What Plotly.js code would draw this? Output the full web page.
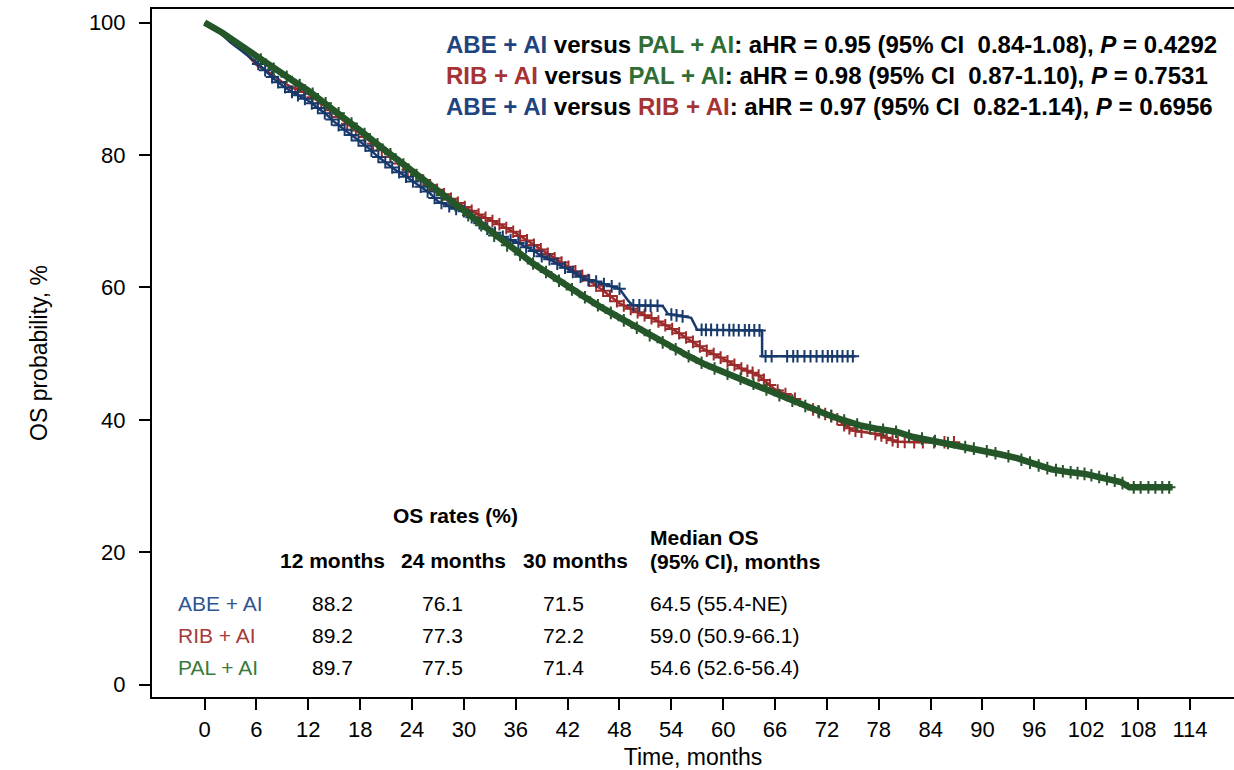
<!DOCTYPE html>
<html>
<head>
<meta charset="utf-8">
<script src="https://cdn.plot.ly/plotly-3.0.1.min.js"></script>
<style>html,body{margin:0;padding:0;background:#fff;}#chart{width:1234px;height:770px;}</style>
</head>
<body>
<div id="chart"></div>
<script>
// ---------- DATA ----------
const abeTime = [0, 1, 2, 3, 4, 5, 6, 7, 8, 9, 10, 11, 12, 13, 14, 15, 16, 17, 18, 19, 20, 21, 22, 23, 24, 25, 26, 27, 28, 29, 30, 31, 32, 33, 34, 35, 36, 37, 38, 39, 40, 41, 42, 43, 44, 45, 46, 47, 48, 49, 49.5, 53, 53.6, 56.3, 57, 64.5, 64.5, 75.3];
const abeSurv = [100, 99.2, 98.2, 97, 96, 95, 94, 92.8, 91.5, 90.5, 89.6, 88.9, 88.2, 87.2, 86.2, 85, 84, 83, 82, 81, 79.8, 78.8, 77.8, 77, 76.1, 75.2, 74.3, 73, 72.4, 71.9, 71.5, 70.5, 69.5, 68.6, 68, 67.3, 66.9, 66.2, 65.6, 64.7, 64.2, 63.4, 62.8, 62, 61.2, 61, 60.6, 60.2, 59.8, 58, 57.3, 57.2, 56, 55.4, 53.6, 53.5, 49.6, 49.6];
const abeCensor = [6.2, 7.0, 7.8, 8.5, 9.3, 10.1, 10.8, 11.6, 12.4, 13.1, 13.9, 14.7, 15.5, 16.2, 17.0, 17.8, 18.6, 19.3, 20.1, 20.9, 21.7, 22.5, 23.3, 24.1, 25.0, 25.8, 26.6, 27.4, 28.3, 29.1, 30.0, 30.9, 31.8, 32.7, 33.6, 34.5, 35.4, 36.3, 37.2, 38.1, 39.0, 39.9, 40.8, 41.7, 42.6, 43.5, 44.4, 45.3, 46.2, 47.1, 48.0, 49.6, 50.3, 51.0, 51.6, 52.4, 54.0, 54.6, 55.3, 57.5, 58.0, 58.6, 59.3, 60.0, 60.7, 61.2, 61.8, 62.5, 63.0, 63.6, 64.2, 64.9, 65.6, 67.4, 68.1, 68.6, 69.4, 70.1, 70.8, 71.5, 72.1, 72.6, 73.2, 73.8, 74.4, 75.0];

const ribTime = [0, 1, 2, 3, 4, 5, 6, 7, 8, 9, 10, 11, 12, 14, 16, 18, 20, 22, 24, 26, 28, 30, 32, 34, 36, 38, 40, 42, 44, 46, 48, 50, 52, 54, 56, 58, 60, 62, 64, 65, 66, 67, 68, 69, 70, 71, 72, 73, 74, 75, 76, 78, 80, 82, 84, 86.7];
const ribSurv = [100, 99, 98.2, 97.2, 96.2, 95, 93.6, 92.8, 92, 91, 90.3, 89.8, 89.2, 87.3, 85.2, 83.2, 81.2, 79.2, 77.3, 75.5, 73.8, 72.2, 70.8, 69.6, 68.2, 66.5, 64.8, 63.2, 61.5, 59.6, 57.6, 56.3, 55.2, 53.8, 52.2, 50.5, 49.2, 47.8, 46.8, 45.7, 44.6, 44, 43.4, 42.6, 41.8, 41.2, 40.8, 40.3, 39.2, 38.4, 38.2, 37.8, 36.7, 36.6, 36.6, 36.6];
const ribCensor = [10.5, 11.5, 12.5, 13.5, 14.5, 15.5, 16.5, 17.5, 18.5, 19.5, 20.5, 21.5, 22.5, 23.5, 24.5, 25.3, 26.1, 26.9, 27.7, 28.5, 29.3, 30.1, 30.9, 31.7, 32.5, 33.3, 34.1, 34.9, 35.7, 36.5, 37.3, 38.1, 38.9, 39.7, 40.5, 41.3, 42.1, 42.9, 43.7, 44.5, 45.3, 46.1, 46.9, 47.7, 48.5, 49.3, 50.1, 50.9, 51.7, 52.5, 53.3, 54.1, 54.9, 55.7, 56.5, 57.3, 58.1, 58.9, 59.7, 60.5, 61.3, 62.1, 62.8, 63.4, 64.1, 64.7, 65.4, 66.3, 67.2, 68.3, 70.4, 71.1, 71.8, 72.5, 73.2, 74.0, 74.6, 75.3, 76.0, 77.6, 78.3, 78.9, 79.6, 80.2, 81.0, 82.1, 83.1, 84.4, 85.6, 86.7];

const palTime = [0, 1, 2, 3, 4, 5, 6, 8, 10, 12, 14, 16, 18, 20, 22, 24, 26, 28, 30, 32, 34, 36, 38, 40, 42, 44, 46, 48, 50, 52, 54, 56, 58, 60, 62, 64, 66, 68, 70, 72, 74, 76, 78, 80, 82, 84, 86, 88, 90, 92, 94, 96, 98, 100, 102, 104, 106, 107, 112];
const palSurv = [100, 99.3, 98.5, 97.6, 96.7, 95.8, 94.9, 93, 91.4, 89.7, 87.8, 85.8, 83.7, 81.6, 79.6, 77.5, 75.4, 73.4, 71.4, 69.4, 67.3, 65.4, 63.6, 61.9, 60.1, 58.5, 56.9, 55.4, 53.9, 52.4, 51.0, 49.6, 48.3, 47.2, 46.2, 45.2, 44.0, 42.9, 41.8, 40.8, 39.9, 39.1, 38.6, 38.2, 37.4, 36.9, 36.5, 35.9, 35.4, 34.8, 34.2, 33.3, 32.5, 32.1, 31.8, 31.2, 30.6, 29.8, 29.8];
const palCensor = [6.5, 8.0, 9.5, 11.0, 12.5, 14.0, 15.5, 17.0, 18.5, 20.0, 21.5, 23.0, 24.5, 26.0, 27.5, 29.0, 30.5, 32.0, 33.5, 35.0, 36.5, 38.0, 39.5, 41.0, 42.5, 44.0, 45.5, 47.0, 48.5, 50.0, 51.5, 53.0, 54.5, 56.0, 57.5, 59.0, 60.5, 62.0, 63.5, 65.0, 66.5, 68.0, 69.5, 71.0, 72.5, 74.0, 75.5, 77.0, 78.5, 80.0, 81.5, 83.0, 84.5, 86.0, 88.0, 89.0, 90.5, 91.5, 93.0, 94.5, 95.5, 96.5, 97.5, 98.5, 99.3, 100.2, 101.0, 101.8, 102.6, 103.5, 104.4, 105.3, 106.2, 107.5, 108.3, 109.2, 110.0, 110.8, 111.6];

const armLabels = ['ABE + AI', 'RIB + AI', 'PAL + AI'];
const rate12 = ['88.2', '89.2', '89.7'];
const rate24 = ['76.1', '77.3', '77.5'];
const rate30 = ['71.5', '72.2', '71.4'];
const medianOS = ['64.5 (55.4-NE)', '59.0 (50.9-66.1)', '54.6 (52.6-56.4)'];
const rateHeaders = ['12 months', '24 months', '30 months'];
const medianHeader = ['Median OS', '(95% CI), months'];

const hrArm1 = ['ABE + AI', 'RIB + AI', 'ABE + AI'];
const hrArm2 = ['PAL + AI', 'PAL + AI', 'RIB + AI'];
const hrValue = ['0.95', '0.98', '0.97'];
const hrCI = ['0.84-1.08', '0.87-1.10', '0.82-1.14'];
const hrP = ['0.4292', '0.7531', '0.6956'];

const xTicks = [0, 6, 12, 18, 24, 30, 36, 42, 48, 54, 60, 66, 72, 78, 84, 90, 96, 102, 108, 114];
const yTicks = [0, 20, 40, 60, 80, 100];

// ---------- STYLE ----------
const lineCol = {'ABE + AI': '#17396b', 'RIB + AI': '#9c2b2b', 'PAL + AI': '#25562a'};
const textCol = {'ABE + AI': '#1f4580', 'RIB + AI': '#a63334', 'PAL + AI': '#2f6d34'};
const labelCol = {'ABE + AI': '#2f5590', 'RIB + AI': '#a83a3a', 'PAL + AI': '#3a7a3e'};
const FONT = 'Liberation Sans, Arial, Helvetica, sans-serif';

function valueAt(ts, ss, t) {
  // value of the drawn curve at time t (linear between read points)
  for (let i = 1; i < ts.length; i++) {
    if (t <= ts[i]) {
      const dt = ts[i] - ts[i - 1];
      if (dt === 0) return ss[i - 1];
      return ss[i - 1] + (ss[i] - ss[i - 1]) * (t - ts[i - 1]) / dt;
    }
  }
  return ss[ss.length - 1];
}

function curve(name, ts, ss, cens, width, msize) {
  const col = lineCol[name];
  return [
    {x: ts, y: ss, type: 'scatter', mode: 'lines', line: {shape: 'linear', color: col, width: width}, name: name, showlegend: false, hoverinfo: 'skip'},
    {x: cens, y: cens.map(t => valueAt(ts, ss, t)), type: 'scatter', mode: 'markers', name: name + ' censored', showlegend: false,
     marker: {symbol: 'cross-thin', size: msize, color: col, line: {color: col, width: 2}}, hoverinfo: 'skip'}
  ];
}

const traces = [].concat(
  curve('RIB + AI', ribTime, ribSurv, ribCensor, 2.5, 9),
  curve('ABE + AI', abeTime, abeSurv, abeCensor, 2.5, 9),
  curve('PAL + AI', palTime, palSurv, palCensor, 6.5, 9)
);

// pixel -> paper helpers (plot area: x 152..1234, y 9..697)
const L = 152, R = 1234, T = 9, B = 697;
const px = v => (v - L) / (R - L);
const py = v => (B - v) / (B - T);

const ann = [];
function addText(x, y, text, anchor, size, color) {
  ann.push({xref: 'paper', yref: 'paper', x: px(x), y: py(y), xanchor: anchor, yanchor: 'middle', showarrow: false,
    text: text, font: {family: FONT, size: size, color: color || '#000'}});
}
// HR statements
const hrY = [45, 76, 106];
for (let i = 0; i < 3; i++) {
  const txt = '<b><span style="color:' + textCol[hrArm1[i]] + '">' + hrArm1[i] + '</span> versus ' +
    '<span style="color:' + textCol[hrArm2[i]] + '">' + hrArm2[i] + '</span>: aHR = ' + hrValue[i] +
    ' (95% CI&nbsp; ' + hrCI[i] + '), <i>P</i> = ' + hrP[i] + '</b>';
  addText(444, hrY[i], txt, 'left', 24);
}
// table
addText(455, 515, '<b>OS rates (%)</b>', 'center', 21);
const colX = [332, 453, 575];
const valX = [332, 442, 563];
for (let j = 0; j < 3; j++) addText(colX[j], 560, '<b>' + rateHeaders[j] + '</b>', 'center', 21);
addText(648, 537, '<b>' + medianHeader[0] + '</b>', 'left', 21);
addText(648, 561, '<b>' + medianHeader[1] + '</b>', 'left', 21);
const rowY = [603, 635, 667];
for (let i = 0; i < 3; i++) {
  addText(176, rowY[i], armLabels[i], 'left', 21, labelCol[armLabels[i]]);
  const vals = [rate12[i], rate24[i], rate30[i]];
  for (let j = 0; j < 3; j++) addText(valX[j], rowY[i], vals[j], 'center', 21);
  addText(648, rowY[i], medianOS[i], 'left', 21);
}

const layout = {
  width: 1234, height: 770,
  margin: {l: L, r: 0, t: T, b: 770 - B, pad: 0},
  paper_bgcolor: '#fff', plot_bgcolor: '#fff',
  showlegend: false,
  font: {family: FONT, size: 22, color: '#000'},
  xaxis: {
    range: [-6.09, 119.1], tickvals: xTicks, ticktext: xTicks.map(String),
    showline: true, linecolor: '#000', linewidth: 2, mirror: true,
    ticks: 'outside', ticklen: 11, tickwidth: 2, tickcolor: '#000',
    showgrid: false, zeroline: false, ticklabelstandoff: 1,
    tickfont: {family: FONT, size: 22, color: '#000'},
    title: {text: 'Time, months', font: {family: FONT, size: 23, color: '#000'}, standoff: 10}
  },
  yaxis: {
    range: [-1.87, 102.05], tickvals: yTicks, ticktext: yTicks.map(String),
    showline: true, linecolor: '#000', linewidth: 2,
    ticks: 'outside', ticklen: 11, tickwidth: 2, tickcolor: '#000',
    showgrid: false, zeroline: false, ticklabelstandoff: 9,
    tickfont: {family: FONT, size: 22, color: '#000'},
    title: {text: 'OS probability, %', font: {family: FONT, size: 23, color: '#000'}, standoff: 35}
  },
  annotations: ann
};

Plotly.newPlot('chart', traces, layout, {displayModeBar: false, staticPlot: true});
</script>
</body>
</html>
